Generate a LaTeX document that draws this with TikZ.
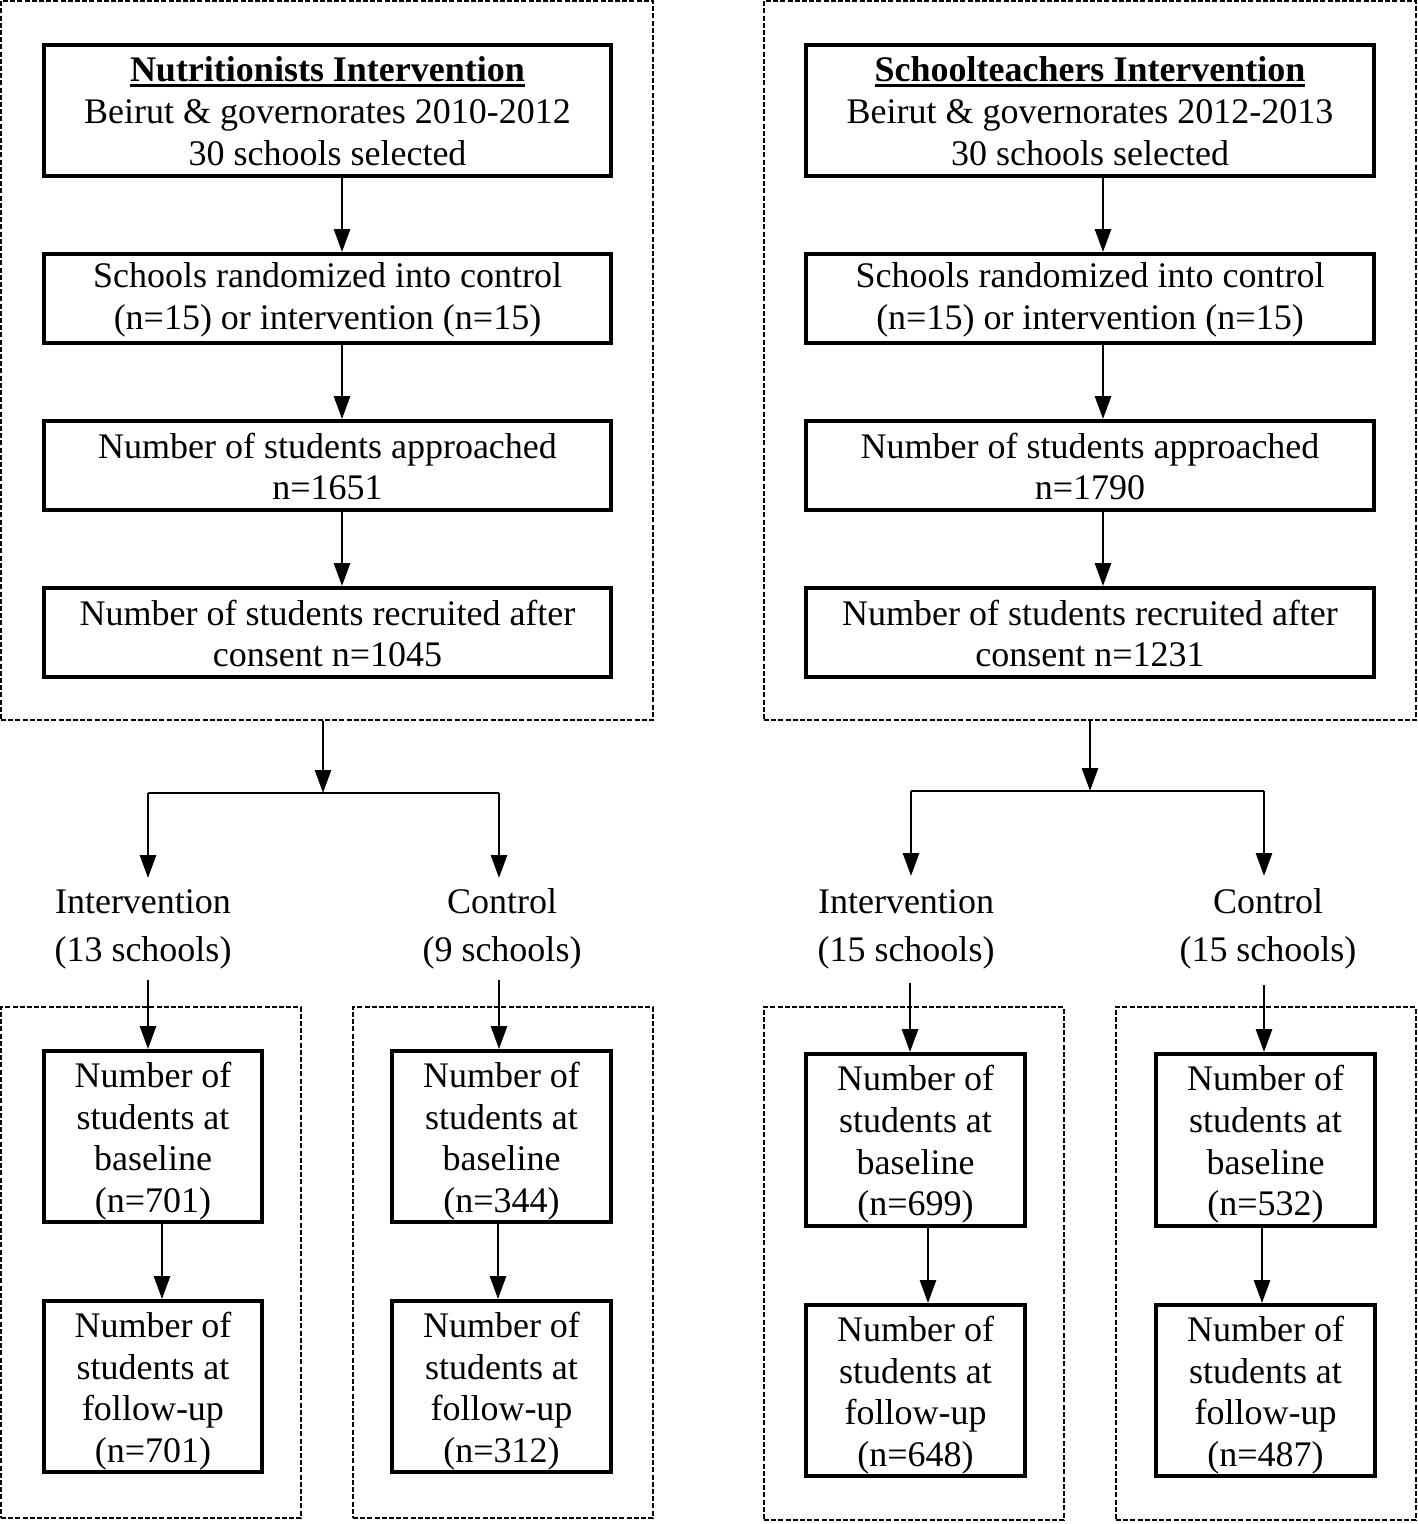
\documentclass[tikz,border=0pt]{standalone}
\usepackage{fontspec}
\setmainfont{Liberation Serif}
\newcommand\heavyul[1]{\setbox0\hbox{#1}\rlap{\rule[-5pt]{\wd0}{2.6pt}}\box0}
\usetikzlibrary{arrows.meta,calc}
\begin{document}
\begin{tikzpicture}[x=1pt,y=-1pt,
  box/.style={draw,line width=3.9pt,inner sep=0pt},
  txt/.style={align=center,font=\fontsize{36}{41.7}\selectfont,inner sep=0pt,yshift=-4.5pt},
  txttwo/.style={txt,yshift=3.5pt},
  grp/.style={draw,dash pattern=on 5pt off 2.2pt,line width=1.3pt,inner sep=0pt},
  lab/.style={align=center,font=\fontsize{36}{48}\selectfont,inner sep=0pt},
  arr/.style={-{Triangle[length=23pt,width=16pt]},line width=2.8pt},
  ln/.style={line width=2.8pt}]
\useasboundingbox (0,0) rectangle (1418,1524);

% top panels
\node[grp,minimum width=652pt,minimum height=719pt] (pL) at (327,360.5) {};
\node[grp,minimum width=652pt,minimum height=719pt] (pR) at (1090,360.5) {};

% left column
\node[box,minimum width=567pt,minimum height=131pt,
  label={[txt,yshift=4pt]center:{\heavyul{\textbf{Nutritionists Intervention}}\\Beirut \& governorates 2010-2012\\30 schools selected}}] (l1) at (327.5,110.5) {};
\node[box,minimum width=567pt,minimum height=89pt,
  label={[txttwo]center:{Schools randomized into control\\(n=15) or intervention (n=15)}}] (l2) at (327.5,298.5) {};
\node[box,minimum width=567pt,minimum height=89pt,
  label={[txttwo]center:{Number of students approached\\n=1651}}] (l3) at (327.5,465.5) {};
\node[box,minimum width=567pt,minimum height=89pt,
  label={[txttwo]center:{Number of students recruited after\\consent n=1045}}] (l4) at (327.5,632.5) {};

% right column
\node[box,minimum width=568pt,minimum height=131pt,
  label={[txt,yshift=4pt]center:{\heavyul{\textbf{Schoolteachers Intervention}}\\Beirut \& governorates 2012-2013\\30 schools selected}}] (r1) at (1090,110.5) {};
\node[box,minimum width=568pt,minimum height=89pt,
  label={[txttwo]center:{Schools randomized into control\\(n=15) or intervention (n=15)}}] (r2) at (1090,298.5) {};
\node[box,minimum width=568pt,minimum height=89pt,
  label={[txttwo]center:{Number of students approached\\n=1790}}] (r3) at (1090,465.5) {};
\node[box,minimum width=568pt,minimum height=89pt,
  label={[txttwo]center:{Number of students recruited after\\consent n=1231}}] (r4) at (1090,632.5) {};

\foreach \a/\b in {l1/l2,l2/l3,l3/l4}
  \draw[arr] ($(\a.south)+(14.5,0)$) -- ($(\b.north)+(14.5,0)$);
\foreach \a/\b in {r1/r2,r2/r3,r3/r4}
  \draw[arr] ($(\a.south)+(13,0)$) -- ($(\b.north)+(13,0)$);

% branching left
\coordinate (jL) at (323,793);
\coordinate (jLa) at (148,793);
\coordinate (jLb) at (499,793);
\draw[arr] ($(pL.south)+(-4,0)$) -- (jL);
\draw[ln] (jLa) -- (jLb);
\node[lab] (li) at (143,929) {Intervention\\(13 schools)};
\node[lab] (lc) at (502,929) {Control\\(9 schools)};
\draw[arr] (jLa) -- ++(0,85);
\draw[arr] (jLb) -- ++(0,85);

% branching right
\coordinate (jR) at (1090,791);
\coordinate (jRa) at (911,791);
\coordinate (jRb) at (1264,791);
\draw[arr] (pR.south) -- (jR);
\draw[ln] (jRa) -- (jRb);
\node[lab] (ri) at (906,929) {Intervention\\(15 schools)};
\node[lab] (rc) at (1268,929) {Control\\(15 schools)};
\draw[arr] (jRa) -- ++(0,85);
\draw[arr] (jRb) -- ++(0,85);

% lower group boxes
\node[grp,minimum width=300pt,minimum height=511pt] (gLI) at (151,1262.5) {};
\node[grp,minimum width=300pt,minimum height=511pt] (gLC) at (503,1262.5) {};
\node[grp,minimum width=300pt,minimum height=513pt] (gRI) at (914,1263.5) {};
\node[grp,minimum width=300pt,minimum height=513pt] (gRC) at (1266,1263.5) {};

% small boxes
\node[box,minimum width=218pt,minimum height=171pt,
  label={[txt]center:{Number of\\students at\\baseline\\(n=701)}}] (liB) at (153,1136.5) {};
\node[box,minimum width=218pt,minimum height=171pt,
  label={[txt]center:{Number of\\students at\\follow-up\\(n=701)}}] (liF) at (153,1386.5) {};
\node[box,minimum width=219pt,minimum height=171pt,
  label={[txt]center:{Number of\\students at\\baseline\\(n=344)}}] (lcB) at (501.5,1136.5) {};
\node[box,minimum width=219pt,minimum height=171pt,
  label={[txt]center:{Number of\\students at\\follow-up\\(n=312)}}] (lcF) at (501.5,1386.5) {};
\node[box,minimum width=219pt,minimum height=172pt,
  label={[txt]center:{Number of\\students at\\baseline\\(n=699)}}] (riB) at (915.5,1140) {};
\node[box,minimum width=219pt,minimum height=171pt,
  label={[txt]center:{Number of\\students at\\follow-up\\(n=648)}}] (riF) at (915.5,1390.5) {};
\node[box,minimum width=219pt,minimum height=172pt,
  label={[txt]center:{Number of\\students at\\baseline\\(n=532)}}] (rcB) at (1265.5,1140) {};
\node[box,minimum width=219pt,minimum height=171pt,
  label={[txt]center:{Number of\\students at\\follow-up\\(n=487)}}] (rcF) at (1265.5,1390.5) {};

% arrows into small boxes
\coordinate (tLI) at (148,980);
\coordinate (tLC) at (499,980);
\coordinate (tRI) at (910,983);
\coordinate (tRC) at (1264,985);
\draw[arr] (tLI) -- (tLI |- liB.north);
\draw[arr] (tLC) -- (tLC |- lcB.north);
\draw[arr] (tRI) -- (tRI |- riB.north);
\draw[arr] (tRC) -- (tRC |- rcB.north);

\draw[arr] ($(liB.south)+(9,0)$) -- ($(liF.north)+(9,0)$);
\draw[arr] ($(lcB.south)+(-3.5,0)$) -- ($(lcF.north)+(-3.5,0)$);
\draw[arr] ($(riB.south)+(12.5,0)$) -- ($(riF.north)+(12.5,0)$);
\draw[arr] ($(rcB.south)+(-3.5,0)$) -- ($(rcF.north)+(-3.5,0)$);
\end{tikzpicture}
\end{document}
